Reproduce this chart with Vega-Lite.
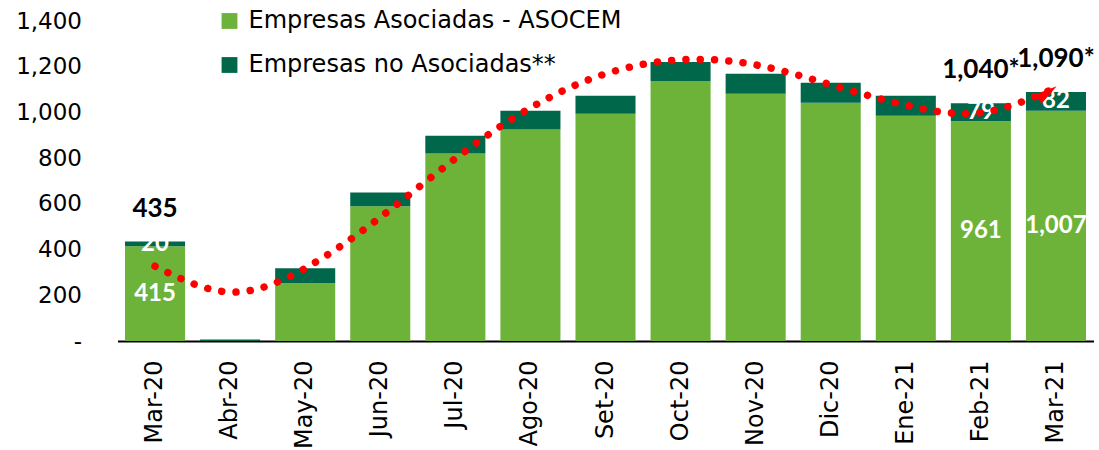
{
  "$schema": "https://vega.github.io/schema/vega-lite/v6.json",
  "width": 976,
  "height": 320,
  "autosize": "none",
  "padding": {"left": 117.5, "top": 21, "right": 5.5, "bottom": 109},
  "config": {"view": {"stroke": null}, "font": "DejaVu Sans"},
  "datasets": {
    "barras": [
      {"mes": "Mar-20", "serie": "Empresas Asociadas - ASOCEM", "orden": 1, "valor": 415, "etiqueta": "415"},
      {"mes": "Mar-20", "serie": "Empresas no Asociadas**", "orden": 2, "valor": 20, "etiqueta": "20"},
      {"mes": "Abr-20", "serie": "Empresas Asociadas - ASOCEM", "orden": 1, "valor": 0, "etiqueta": ""},
      {"mes": "Abr-20", "serie": "Empresas no Asociadas**", "orden": 2, "valor": 7, "etiqueta": ""},
      {"mes": "May-20", "serie": "Empresas Asociadas - ASOCEM", "orden": 1, "valor": 253, "etiqueta": ""},
      {"mes": "May-20", "serie": "Empresas no Asociadas**", "orden": 2, "valor": 65, "etiqueta": ""},
      {"mes": "Jun-20", "serie": "Empresas Asociadas - ASOCEM", "orden": 1, "valor": 589, "etiqueta": ""},
      {"mes": "Jun-20", "serie": "Empresas no Asociadas**", "orden": 2, "valor": 61, "etiqueta": ""},
      {"mes": "Jul-20", "serie": "Empresas Asociadas - ASOCEM", "orden": 1, "valor": 820, "etiqueta": ""},
      {"mes": "Jul-20", "serie": "Empresas no Asociadas**", "orden": 2, "valor": 78, "etiqueta": ""},
      {"mes": "Ago-20", "serie": "Empresas Asociadas - ASOCEM", "orden": 1, "valor": 925, "etiqueta": ""},
      {"mes": "Ago-20", "serie": "Empresas no Asociadas**", "orden": 2, "valor": 82, "etiqueta": ""},
      {"mes": "Set-20", "serie": "Empresas Asociadas - ASOCEM", "orden": 1, "valor": 994, "etiqueta": ""},
      {"mes": "Set-20", "serie": "Empresas no Asociadas**", "orden": 2, "valor": 79, "etiqueta": ""},
      {"mes": "Oct-20", "serie": "Empresas Asociadas - ASOCEM", "orden": 1, "valor": 1138, "etiqueta": ""},
      {"mes": "Oct-20", "serie": "Empresas no Asociadas**", "orden": 2, "valor": 83, "etiqueta": ""},
      {"mes": "Nov-20", "serie": "Empresas Asociadas - ASOCEM", "orden": 1, "valor": 1082, "etiqueta": ""},
      {"mes": "Nov-20", "serie": "Empresas no Asociadas**", "orden": 2, "valor": 87, "etiqueta": ""},
      {"mes": "Dic-20", "serie": "Empresas Asociadas - ASOCEM", "orden": 1, "valor": 1042, "etiqueta": ""},
      {"mes": "Dic-20", "serie": "Empresas no Asociadas**", "orden": 2, "valor": 88, "etiqueta": ""},
      {"mes": "Ene-21", "serie": "Empresas Asociadas - ASOCEM", "orden": 1, "valor": 986, "etiqueta": ""},
      {"mes": "Ene-21", "serie": "Empresas no Asociadas**", "orden": 2, "valor": 87, "etiqueta": ""},
      {"mes": "Feb-21", "serie": "Empresas Asociadas - ASOCEM", "orden": 1, "valor": 961, "etiqueta": "961"},
      {"mes": "Feb-21", "serie": "Empresas no Asociadas**", "orden": 2, "valor": 79, "etiqueta": "79"},
      {"mes": "Mar-21", "serie": "Empresas Asociadas - ASOCEM", "orden": 1, "valor": 1007, "etiqueta": "1,007"},
      {"mes": "Mar-21", "serie": "Empresas no Asociadas**", "orden": 2, "valor": 82, "etiqueta": "82"}
    ],
    "totales": [
      {"mes": "Mar-20", "total": 435, "etiqueta": "435", "tendencia": 327},
      {"mes": "Abr-20", "total": 7, "etiqueta": "", "tendencia": 214},
      {"mes": "May-20", "total": 318, "etiqueta": "", "tendencia": 318},
      {"mes": "Jun-20", "total": 650, "etiqueta": "", "tendencia": 541},
      {"mes": "Jul-20", "total": 898, "etiqueta": "", "tendencia": 798},
      {"mes": "Ago-20", "total": 1007, "etiqueta": "", "tendencia": 1020},
      {"mes": "Set-20", "total": 1073, "etiqueta": "", "tendencia": 1169},
      {"mes": "Oct-20", "total": 1221, "etiqueta": "", "tendencia": 1230},
      {"mes": "Nov-20", "total": 1169, "etiqueta": "", "tendencia": 1208},
      {"mes": "Dic-20", "total": 1130, "etiqueta": "", "tendencia": 1121},
      {"mes": "Ene-21", "total": 1073, "etiqueta": "", "tendencia": 1032},
      {"mes": "Feb-21", "total": 1040, "etiqueta": "1,040*", "tendencia": 999},
      {"mes": "Mar-21", "total": 1089, "etiqueta": "1,090*", "tendencia": 1108}
    ],
    "flecha": [
      {"mes": "Mar-21", "valor": 1108}
    ]
  },
  "encoding": {
    "x": {
      "field": "mes",
      "type": "nominal",
      "scale": {
        "domain": ["Mar-20", "Abr-20", "May-20", "Jun-20", "Jul-20", "Ago-20", "Set-20", "Oct-20", "Nov-20", "Dic-20", "Ene-21", "Feb-21", "Mar-21"],
        "paddingInner": 0.2,
        "paddingOuter": 0.1
      },
      "axis": {
        "title": null,
        "labelAngle": -90,
        "labelFont": "DejaVu Sans",
        "labelFontSize": 24,
        "labelColor": "#000000",
        "labelPadding": 19,
        "labelLimit": 0,
        "ticks": false,
        "domainColor": "#000000",
        "domainWidth": 2
      }
    }
  },
  "layer": [
    {
      "data": {"name": "barras"},
      "mark": {"type": "bar"},
      "encoding": {
        "y": {
          "field": "valor",
          "type": "quantitative",
          "stack": "zero",
          "scale": {"domain": [0, 1400]},
          "axis": {
            "title": null,
            "values": [0, 200, 400, 600, 800, 1000, 1200, 1400],
            "labelExpr": "datum.value == 0 ? '-\u00a0\u00a0' : format(datum.value, ',')",
            "grid": false,
            "domain": false,
            "ticks": false,
            "labelFont": "DejaVu Sans",
            "labelFontSize": 23,
            "labelColor": "#000000",
            "labelPadding": 36
          }
        },
        "color": {
          "field": "serie",
          "type": "nominal",
          "scale": {
            "domain": ["Empresas Asociadas - ASOCEM", "Empresas no Asociadas**"],
            "range": ["#6db33a", "#00674a"]
          },
          "legend": {
            "title": null,
            "orient": "none",
            "legendX": 100,
            "legendY": -12,
            "direction": "vertical",
            "symbolType": "square",
            "symbolSize": 250,
            "symbolStrokeWidth": 0,
            "labelFont": "DejaVu Sans",
            "labelFontSize": 24,
            "labelColor": "#000000",
            "labelOffset": 7,
            "labelLimit": 0,
            "rowPadding": 20
          }
        },
        "order": {"field": "orden", "type": "quantitative"}
      }
    },
    {
      "data": {"name": "barras"},
      "mark": {"type": "text", "color": "#ffffff", "font": "Lato", "fontSize": 24, "fontWeight": "bold", "baseline": "middle", "align": "center"},
      "encoding": {
        "y": {"field": "valor", "type": "quantitative", "stack": "zero", "bandPosition": 0.5},
        "detail": {"field": "serie"},
        "order": {"field": "orden", "type": "quantitative"},
        "text": {"field": "etiqueta"}
      }
    },
    {
      "data": {"name": "totales"},
      "mark": {"type": "line", "color": "#ff0000", "strokeWidth": 7.5, "strokeCap": "round", "strokeDash": [0.01, 14.3], "interpolate": "natural"},
      "encoding": {
        "y": {"field": "tendencia", "type": "quantitative"}
      }
    },
    {
      "data": {"name": "flecha"},
      "mark": {"type": "point", "shape": "M-1,-0.5L1,0L-1,0.5Z", "filled": true, "color": "#ff0000", "opacity": 1, "size": 500, "angle": -35, "xOffset": -8.5, "yOffset": 5},
      "encoding": {
        "y": {"field": "valor", "type": "quantitative"}
      }
    },
    {
      "data": {"name": "totales"},
      "mark": {"type": "text", "color": "#000000", "font": "Lato", "fontSize": 26, "fontWeight": "bold", "baseline": "alphabetic", "align": "center", "dy": -25},
      "encoding": {
        "y": {"field": "total", "type": "quantitative"},
        "text": {"field": "etiqueta"}
      }
    }
  ]
}
